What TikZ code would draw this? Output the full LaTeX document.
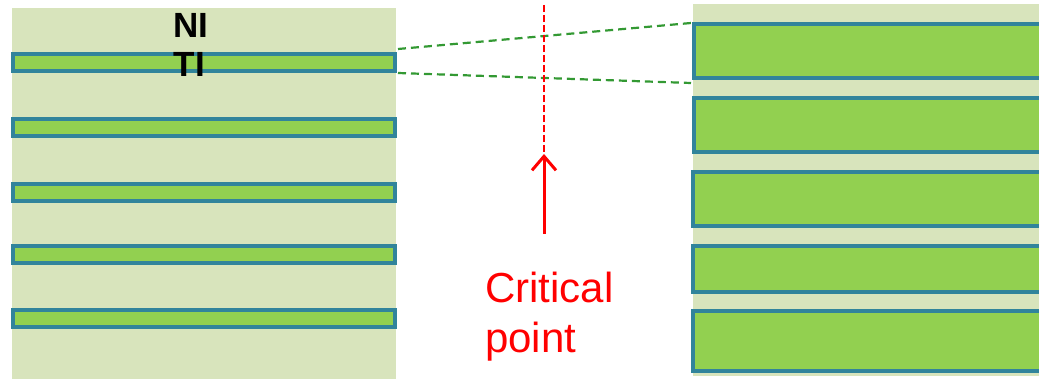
\documentclass[tikz,border=0pt]{standalone}
\usepackage{fontspec}
\setmainfont{Liberation Sans}
\usetikzlibrary{arrows.meta}
\definecolor{bgg}{HTML}{D8E4BC}
\definecolor{barg}{HTML}{92D050}
\definecolor{bart}{HTML}{31849B}
\definecolor{dgreen}{HTML}{339933}
\begin{document}
\begin{tikzpicture}[x=1pt,y=-1pt,
  bar/.style={rectangle, draw=bart, fill=barg, line width=4pt, inner sep=0pt, outer sep=0pt},
  lbar/.style={bar, minimum width=382pt, minimum height=17pt},
  rbar/.style={bar, minimum width=356pt},
  zoomline/.style={draw=dgreen, line width=2.2pt, dash pattern=on 8pt off 5pt},
  critline/.style={draw=red, line width=2pt, dash pattern=on 7pt off 3pt},
  critarrow/.style={draw=red, line width=3pt, -{Straight Barb[length=14pt,width=24pt,line width=3pt]}},
  redtext/.style={text=red, font=\fontsize{42}{50}\selectfont, align=left, inner sep=0pt},
  labeltext/.style={text=black, font=\bfseries\fontsize{35}{39.5}\selectfont, align=left, inner sep=0pt}]
\useasboundingbox (0,0) rectangle (1039,379);
\begin{scope}
\clip (0,0) rectangle (1039,379);
% backgrounds
\fill[bgg] (12,8) rectangle (396,379);
\fill[bgg] (693,4) rectangle (1039,376);
% left bars
\node[lbar] (l1) at (204,62.5) {};
\node[lbar] (l2) at (204,127.5) {};
\node[lbar] (l3) at (204,192.5) {};
\node[lbar] (l4) at (204,254.5) {};
\node[lbar] (l5) at (204,318.5) {};
% right bars
\node[rbar, minimum height=54pt] (r1) at (872,51) {};
\node[rbar, minimum height=54pt] (r2) at (872,125) {};
\node[rbar, minimum height=54pt] (r3) at (871,199) {};
\node[rbar, minimum height=46pt] (r4) at (871,269) {};
\node[rbar, minimum height=60pt] (r5) at (871,341) {};
\end{scope}
% labels
\node[labeltext, anchor=north west] (niti) at (173.5,13) {NI\\TI};
% zoom lines
\coordinate (zl1) at (398,49);
\coordinate (zl2) at (398,73);
\coordinate (zr1) at (691,23);
\coordinate (zr2) at (691,83);
\draw[zoomline] (zl1) -- (zr1);
\draw[zoomline] (zl2) -- (zr2);
% critical line
\coordinate (ctop) at (544,5);
\coordinate (cbot) at (544,152);
\draw[critline] (ctop) -- (cbot);
\coordinate (atail) at (544,234);
\coordinate (ahead) at (544,154);
\draw[critarrow] (atail) -- (ahead);
\node[redtext, anchor=north west] (crit) at (485,272) {Critical\\point};
\end{tikzpicture}
\end{document}
